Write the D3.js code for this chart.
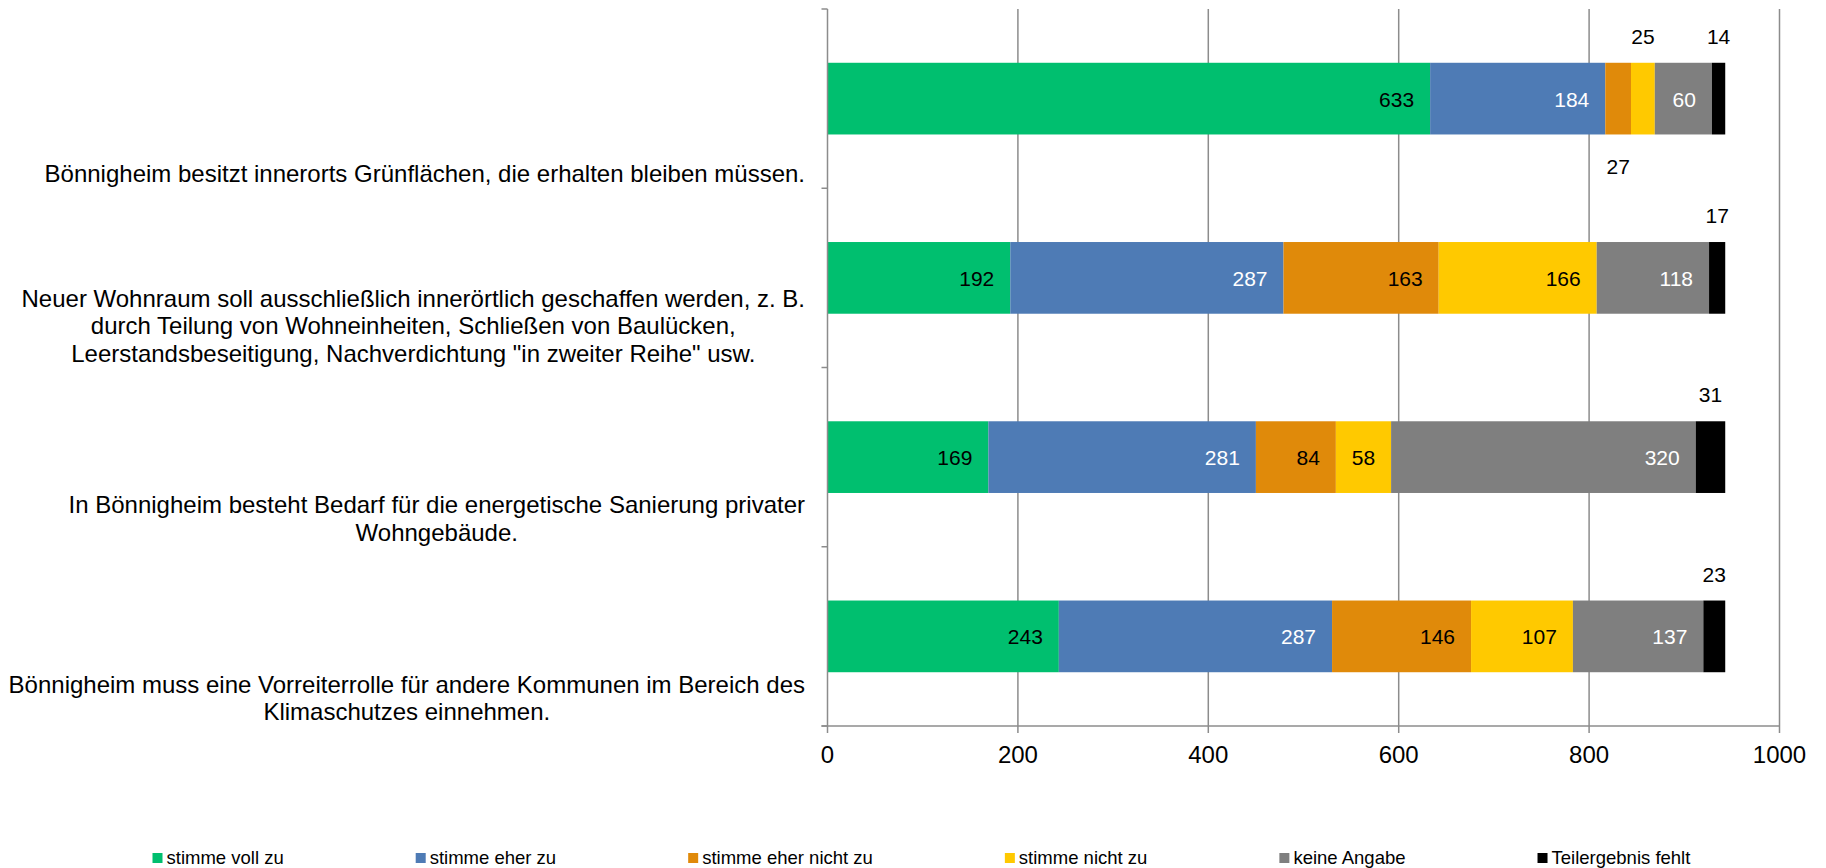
<!DOCTYPE html>
<html>
<head>
<meta charset="utf-8">
<script src="https://cdn.jsdelivr.net/npm/d3@7"></script>
<style>
  body { margin: 0; background: #fff; }
  svg text { font-family: "Liberation Sans", Arial, sans-serif; }
</style>
</head>
<body>
<svg id="chart" width="1826" height="868"></svg>
<script>
// Aussagen (von oben nach unten)
var statements = [
  ["Bönnigheim besitzt innerorts Grünflächen, die erhalten bleiben müssen."],
  ["Neuer Wohnraum soll ausschließlich innerörtlich geschaffen werden, z. B.",
   "durch Teilung von Wohneinheiten, Schließen von Baulücken,",
   "Leerstandsbeseitigung, Nachverdichtung \"in zweiter Reihe\" usw."],
  ["In Bönnigheim besteht Bedarf für die energetische Sanierung privater",
   "Wohngebäude."],
  ["Bönnigheim muss eine Vorreiterrolle für andere Kommunen im Bereich des",
   "Klimaschutzes einnehmen."]
];

var seriesNames = ["stimme voll zu", "stimme eher zu", "stimme eher nicht zu",
                   "stimme nicht zu", "keine Angabe", "Teilergebnis fehlt"];
var seriesColors = ["#00bf6f", "#4e7bb5", "#e08a0a", "#ffc900", "#7f7f7f", "#000000"];
var labelColors = ["#000", "#fff", "#000", "#000", "#fff", "#000"];

// Werte je Antwortkategorie, in der Reihenfolge der Aussagen
var vollZu      = [633, 192, 169, 243];
var eherZu      = [184, 287, 281, 287];
var eherNichtZu = [27, 163, 84, 146];
var nichtZu     = [25, 166, 58, 107];
var keineAngabe = [60, 118, 320, 137];
var fehlt       = [14, 17, 31, 23];

var xTicks = [0, 200, 400, 600, 800, 1000];

var values = [vollZu, eherZu, eherNichtZu, nichtZu, keineAngabe, fehlt];

var svg = d3.select("#chart");
var plotLeft = 827.5, plotRight = 1779.5, plotTop = 9, plotBottom = 726;

var x = d3.scaleLinear().domain([0, 1000]).range([plotLeft, plotRight]);
var y = d3.scaleBand()
  .domain(d3.range(statements.length))
  .range([plotTop, plotBottom])
  .paddingInner(0.6)
  .paddingOuter(0.3);

var grid = "#8c8c8c";

// Gitterlinien
svg.append("g").selectAll("line")
  .data(xTicks.slice(1))
  .enter().append("line")
  .attr("x1", function(d) { return x(d); })
  .attr("x2", function(d) { return x(d); })
  .attr("y1", plotTop).attr("y2", plotBottom)
  .attr("stroke", grid).attr("stroke-width", 1.5);

// Daten stapeln
var rows = statements.map(function(s, i) {
  var o = { idx: i };
  seriesNames.forEach(function(n, k) { o[n] = values[k][i]; });
  return o;
});
var stack = d3.stack().keys(seriesNames)(rows);

var layers = svg.append("g").selectAll("g")
  .data(stack)
  .enter().append("g")
  .attr("fill", function(d, k) { return seriesColors[k]; });

layers.selectAll("rect")
  .data(function(d) { return d; })
  .enter().append("rect")
  .attr("x", function(d) { return x(d[0]); })
  .attr("width", function(d) { return x(d[1]) - x(d[0]); })
  .attr("y", function(d) { return y(d.data.idx); })
  .attr("height", y.bandwidth());

// Achsen
var axisG = svg.append("g").attr("stroke", grid).attr("stroke-width", 1.5);
axisG.append("line").attr("x1", plotLeft).attr("x2", plotLeft).attr("y1", plotTop).attr("y2", plotBottom);
axisG.append("line").attr("x1", plotLeft - 6).attr("x2", plotRight).attr("y1", plotBottom).attr("y2", plotBottom);
// Kategorie-Teilstriche
var step = (plotBottom - plotTop) / statements.length;
axisG.selectAll(".yt")
  .data(d3.range(statements.length + 1))
  .enter().append("line")
  .attr("x1", plotLeft - 6).attr("x2", plotLeft)
  .attr("y1", function(i) { return plotTop + i * step; })
  .attr("y2", function(i) { return plotTop + i * step; });
axisG.selectAll(".xt")
  .data(xTicks)
  .enter().append("line")
  .attr("x1", function(d) { return x(d); })
  .attr("x2", function(d) { return x(d); })
  .attr("y1", plotBottom).attr("y2", plotBottom + 7);

svg.append("g").selectAll("text")
  .data(xTicks)
  .enter().append("text")
  .attr("x", function(d) { return x(d); })
  .attr("y", 763)
  .attr("text-anchor", "middle")
  .attr("font-size", 24)
  .attr("fill", "#000")
  .text(function(d) { return d; });

// Kategorie-Beschriftungen: unten am Bandende, Zeilen zentriert
var labelRight = 805, lineH = 27.5;
statements.forEach(function(lines, i) {
  var g = svg.append("g");
  var bandBottom = plotTop + (i + 1) * step;
  var t = g.selectAll("text").data(lines).enter().append("text")
    .attr("font-size", 24)
    .attr("fill", "#000")
    .attr("text-anchor", "middle")
    .attr("y", function(d, j) { return bandBottom - 6 - (lines.length - 1 - j) * lineH; })
    .text(function(d) { return d; });
  var maxW = 0;
  t.each(function() { maxW = Math.max(maxW, this.getComputedTextLength()); });
  t.attr("x", labelRight - maxW / 2);
});

// Datenbeschriftungen
layers.each(function(layer, k) {
  d3.select(this).selectAll("text")
    .data(layer)
    .enter().append("text")
    .attr("font-size", 21)
    .text(function(d) { return d[1] - d[0]; })
    .each(function(d) {
      var el = d3.select(this);
      var w = this.getComputedTextLength();
      var x0 = x(d[0]), x1 = x(d[1]);
      var yb = y(d.data.idx);
      if (k === 5 || x1 - x0 < w + 10) {
        // außerhalb des Balkens
        el.attr("text-anchor", "middle").attr("fill", "#000")
          .attr("x", (x0 + x1) / 2);
        if (k === 2) el.attr("y", yb + y.bandwidth() + 40);
        else el.attr("y", yb - 19);
      } else {
        el.attr("text-anchor", "end").attr("fill", labelColors[k])
          .attr("x", x1 - 16)
          .attr("y", yb + y.bandwidth() / 2 + 8);
      }
    });
});

// Legende
var legend = svg.append("g");
var lx = 152.5;
seriesNames.forEach(function(n, k) {
  legend.append("rect")
    .attr("x", lx).attr("y", 853)
    .attr("width", 10).attr("height", 10)
    .attr("fill", seriesColors[k]);
  var t = legend.append("text")
    .attr("x", lx + 14).attr("y", 864)
    .attr("font-size", 18.5)
    .attr("fill", "#000")
    .text(n);
  lx += 14 + t.node().getComputedTextLength() + 132;
});
</script>
</body>
</html>
